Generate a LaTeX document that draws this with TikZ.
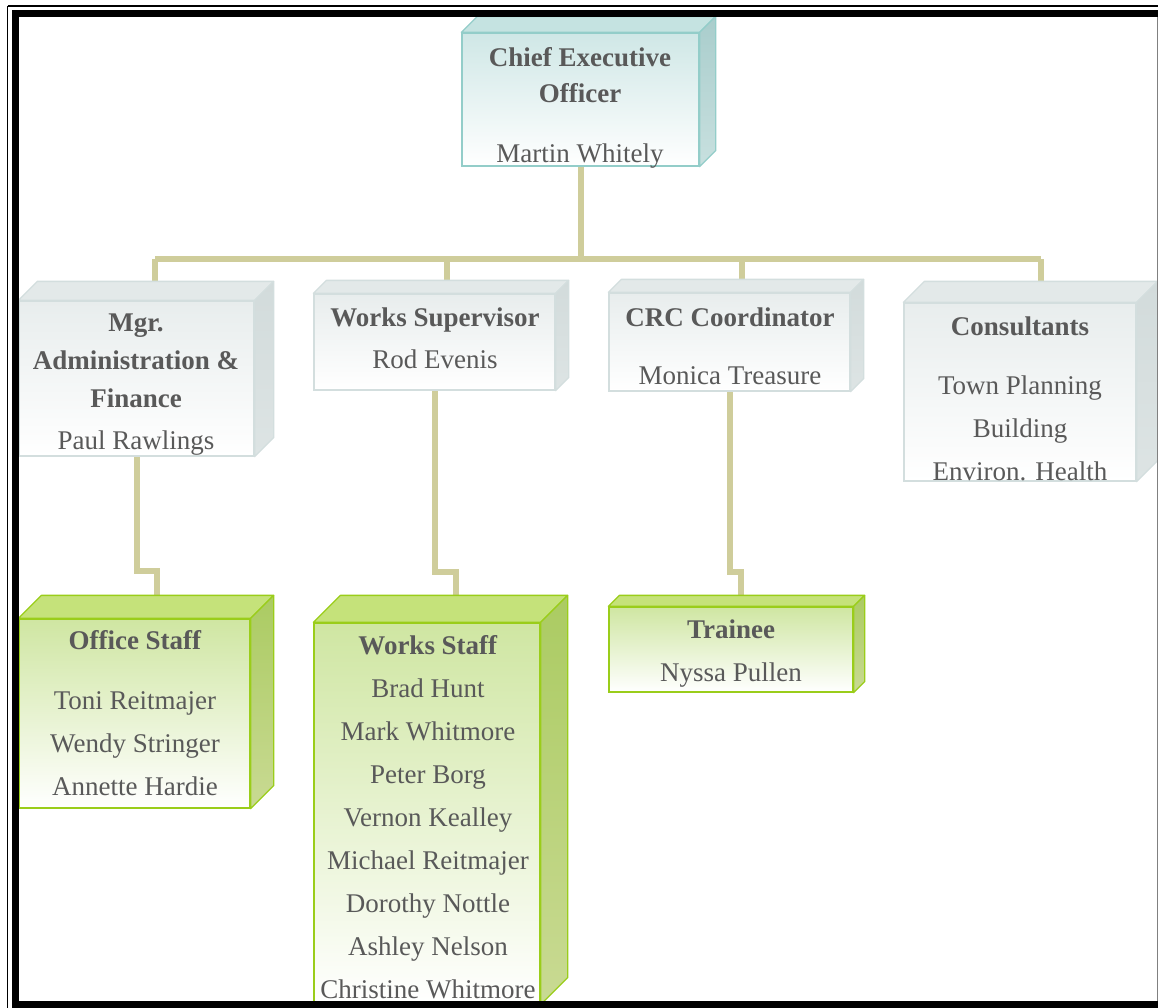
\documentclass[tikz,border=0pt]{standalone}
\usepackage{fontspec}
\setmainfont{Liberation Serif}
\usepackage{tikz}
\usetikzlibrary{calc,backgrounds}

\definecolor{textgrey}{HTML}{595959}
\definecolor{conncol}{HTML}{CFCD9B}
% teal (top box)
\definecolor{tealfront}{HTML}{CFE7E6}
\definecolor{tealtop}{HTML}{C5E3E1}
\definecolor{tealside}{HTML}{A9CDCC}
\definecolor{tealsidelow}{HTML}{C8E0DF}
\definecolor{tealline}{HTML}{93CDC9}
% grey boxes
\definecolor{greyfront}{HTML}{E8EDED}
\definecolor{greytop}{HTML}{E3E9E9}
\definecolor{greyside}{HTML}{D2DBDB}
\definecolor{greysidelow}{HTML}{DDE4E4}
\definecolor{greyline}{HTML}{D3DEDE}
% green boxes
\definecolor{greenfront}{HTML}{CFE6A2}
\definecolor{greentop}{HTML}{C5E27A}
\definecolor{greenside}{HTML}{ABCB62}
\definecolor{greensidelow}{HTML}{C9DA93}
\definecolor{greenline}{HTML}{9ACD1A}

% top and right faces of a box
\newcommand{\cubesides}[3]{%
  \draw[draw=#3line, line width=1.3pt, fill=#3top, line join=round]
    (#1.north west) -- ++(#2,-#2) -- ($(#1.north east)+(#2,-#2)$) -- (#1.north east) -- cycle;
  \draw[draw=#3line, line width=1.3pt, top color=#3side, bottom color=#3sidelow, line join=round]
    (#1.north east) -- ++(#2,-#2) -- ($(#1.south east)+(#2,-#2)$) -- (#1.south east) -- cycle;
}

\begin{document}
\begin{tikzpicture}[x=1pt, y=-1pt,
    front/.style={draw=#1line, line width=1.3pt, top color=#1front, bottom color=white, inner sep=0pt},
    txt/.style={text=textgrey, font=\fontsize{27}{43}\selectfont, align=center, inner sep=0pt, anchor=north},
    conn/.style={draw=conncol, line width=6pt}]

    \useasboundingbox (0,0) rectangle (1158,1007);

    % CEO
    \node[front=teal, minimum width=237pt, minimum height=133pt] (ceo) at (580.5,99.5) {};
    \cubesides{ceo}{16}{teal}
    \node[txt] (ceoT) at (580,47.5) {\textbf{Chief Executive}\\[-7pt]\textbf{Officer}\\[17pt]Martin Whitely};

    % Managers
    \node[front=grey, minimum width=235pt, minimum height=155pt] (mgr) at (136.5,378.5) {};
    \cubesides{mgr}{19}{grey}
    \node[txt] (mgrT) at (136,313.5) {\textbf{Mgr.}\\[-5pt]\textbf{Administration \&}\\[-5pt]\textbf{Finance}\\[-1pt]Paul Rawlings};

    \node[front=grey, minimum width=241pt, minimum height=96pt] (wsup) at (434.5,342) {};
    \cubesides{wsup}{13}{grey}
    \node[txt] (wsupT) at (435,307.5) {\textbf{Works Supervisor}\\[-1pt]Rod Evenis};

    \node[front=grey, minimum width=241pt, minimum height=98pt] (crc) at (729.5,342) {};
    \cubesides{crc}{13}{grey}
    \node[txt] (crcT) at (730,307.5) {\textbf{CRC Coordinator}\\[15pt]Monica Treasure};

    \node[front=grey, minimum width=232pt, minimum height=178pt] (cons) at (1020,392) {};
    \cubesides{cons}{21}{grey}
    \node[txt] (consT) at (1020,316.5) {\textbf{Consultants}\\[16pt]Town Planning\\Building\\Environ. Health};

    % Staff
    \node[front=green, minimum width=231pt, minimum height=189pt] (office) at (134.5,713.5) {};
    \cubesides{office}{23}{green}
    \node[txt] (officeT) at (135,630.5) {\textbf{Office Staff}\\[17pt]Toni Reitmajer\\Wendy Stringer\\Annette Hardie};

    \node[front=green, minimum width=226pt, minimum height=381pt] (wstaff) at (427,813.5) {};
    \cubesides{wstaff}{27}{green}
    \node[txt] (wstaffT) at (428,635.5) {\textbf{Works Staff}\\Brad Hunt\\Mark Whitmore\\Peter Borg\\Vernon Kealley\\Michael Reitmajer\\Dorothy Nottle\\Ashley Nelson\\Christine Whitmore};

    \node[front=green, minimum width=244pt, minimum height=85pt] (trainee) at (731,649.5) {};
    \cubesides{trainee}{11}{green}
    \node[txt] (traineeT) at (731,619.5) {\textbf{Trainee}\\Nyssa Pullen};

    % Connectors
    \begin{pgfonlayer}{background}
    \coordinate (busL) at (155,259);
    \coordinate (busR) at (1041,259);
    \coordinate (b2) at (447,259);
    \coordinate (b3) at (742,259);
    \coordinate (k1) at (157,571);
    \coordinate (k2) at (456,572);
    \coordinate (k3) at (741,572);
    \draw[conn] (ceo.south) -- (ceo.south |- busL);
    \draw[conn] (busL) -- (busR);
    \draw[conn] (busL) -- (busL |- mgr.north);
    \draw[conn] (b2) -- (b2 |- wsup.north);
    \draw[conn] (b3) -- (b3 |- crc.north);
    \draw[conn] (busR) -- (busR |- cons.north);
    \draw[conn] (mgr.south) |- (k1) -- (k1 |- office.north);
    \draw[conn] (wsup.south) |- (k2) -- (k2 |- wstaff.north);
    \draw[conn] (crc.south) |- (k3) -- (k3 |- trainee.north);
    \end{pgfonlayer}

    % Page frame
    \draw[line width=1.2pt] (7.5,6) -- (1170,6);
    \draw[line width=1.2pt] (7.5,6) -- (7.5,1020);
    \draw[line width=7pt] (1170,13.5) -- (15.5,13.5) -- (15.5,1004.5) -- (1170,1004.5);
    \draw[gray, line width=1pt] (1157,17) -- (1157,1001);

\end{tikzpicture}
\end{document}
